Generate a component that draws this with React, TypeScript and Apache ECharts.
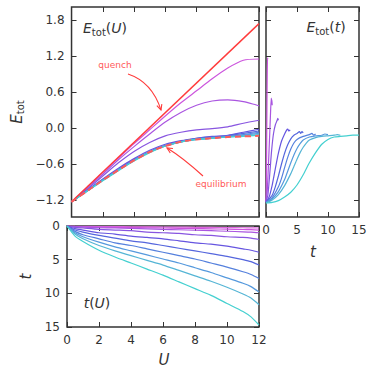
import React, { useEffect, useRef } from "react";
import * as echarts from "echarts";

const FONT = '"DejaVu Sans", "Liberation Sans", sans-serif';
const INK = "#333333";
const RED = "#ff3b3b";
const NOTE = "#ff5a5a";

// ---------- panel 1: E_tot(U) ----------
const U_VALUES = [0, 1, 2, 3, 4, 5, 6, 7, 8, 9, 10, 11, 12];
const RUN_COLORS = ["#cc55dd", "#aa55e0", "#8855e0", "#6655e0", "#5566dd", "#5580dd", "#5599dd", "#55b5d5", "#44d0d0"];
const E_OF_U_RUNS = [
  [-1.23, -0.99, -0.74, -0.5, -0.26, -0.03, 0.2, 0.42, 0.62, 0.82, 1.0, 1.13, 1.15],
  [-1.23, -1.0, -0.77, -0.53, -0.31, -0.1, 0.1, 0.26, 0.38, 0.45, 0.47, 0.44, 0.37],
  [-1.23, -1.02, -0.8, -0.58, -0.39, -0.24, -0.13, -0.07, -0.03, -0.01, 0.02, 0.08, 0.13],
  [-1.23, -1.04, -0.85, -0.67, -0.51, -0.37, -0.27, -0.21, -0.17, -0.14, -0.12, -0.07, -0.02],
  [-1.23, -1.04, -0.86, -0.69, -0.53, -0.39, -0.29, -0.22, -0.17, -0.15, -0.13, -0.09, -0.05],
  [-1.23, -1.05, -0.87, -0.7, -0.54, -0.4, -0.3, -0.23, -0.18, -0.16, -0.14, -0.11, -0.07],
  [-1.23, -1.05, -0.87, -0.7, -0.54, -0.4, -0.3, -0.23, -0.19, -0.17, -0.15, -0.12, -0.09],
  [-1.23, -1.05, -0.87, -0.7, -0.54, -0.4, -0.3, -0.23, -0.19, -0.17, -0.15, -0.13, -0.11],
  [-1.23, -1.05, -0.88, -0.71, -0.55, -0.41, -0.3, -0.23, -0.19, -0.17, -0.15, -0.14, -0.12],
];
const QUENCH_U = [0, 12];
const QUENCH_E = [-1.23, 1.74];
const EQUILIBRIUM_E = [-1.23, -1.05, -0.87, -0.7, -0.54, -0.4, -0.3, -0.23, -0.19, -0.17, -0.15, -0.14, -0.13];
const E_TICKS = [-1.2, -0.6, 0, 0.6, 1.2, 1.8];

// ---------- panel 2: E_tot(t) ----------
const E_OF_T_RUNS: number[][][] = [
  [[0, -1.23], [0.05, -1.0], [0.1, -0.4], [0.15, 0.3], [0.2, 0.9], [0.25, 1.17], [0.3, 1.15]],
  [[0, -1.23], [0.2, -1.05], [0.4, -0.6], [0.6, -0.1], [0.75, 0.3], [0.85, 0.5], [0.9, 0.42], [0.95, 0.47], [1.0, 0.38]],
  [[0, -1.23], [0.3, -1.12], [0.5, -0.9], [0.7, -0.64], [0.9, -0.38], [1.2, -0.1], [1.5, 0.05], [1.8, 0.13], [1.9, 0.16], [2.0, 0.13]],
  [[0, -1.24], [0.5, -1.15], [1.0, -0.95], [1.5, -0.68], [2.0, -0.42], [2.5, -0.22], [3.0, -0.1], [3.3, -0.04], [3.5, -0.02], [3.7, -0.05], [3.9, -0.03]],
  [[0, -1.24], [1, -1.12], [1.5, -0.98], [2, -0.8], [2.5, -0.6], [3, -0.42], [3.5, -0.28], [4, -0.18], [4.5, -0.12], [5, -0.09], [5.4, -0.06], [5.6, -0.09], [5.8, -0.06], [6, -0.08]],
  [[0, -1.24], [1, -1.16], [2, -0.98], [2.5, -0.84], [3, -0.66], [3.5, -0.49], [4, -0.35], [4.5, -0.25], [5, -0.19], [6, -0.14], [7, -0.11], [7.4, -0.09], [7.7, -0.12], [8, -0.1]],
  [[0, -1.24], [1, -1.18], [2, -1.06], [3, -0.86], [3.5, -0.72], [4, -0.58], [4.5, -0.45], [5, -0.34], [5.5, -0.26], [6, -0.2], [7, -0.15], [8, -0.13], [9, -0.12], [9.5, -0.1], [10, -0.11]],
  [[0, -1.25], [1, -1.2], [2, -1.11], [3, -0.96], [4, -0.76], [4.5, -0.64], [5, -0.52], [5.5, -0.41], [6, -0.32], [6.5, -0.25], [7, -0.2], [8, -0.16], [9, -0.14], [10, -0.13], [11, -0.12], [11.5, -0.11], [12, -0.12]],
  [[0, -1.25], [1, -1.24], [2, -1.21], [3, -1.15], [4, -1.07], [5, -0.95], [6, -0.78], [7, -0.58], [8, -0.41], [9, -0.27], [10, -0.19], [11, -0.15], [12, -0.14], [13, -0.13], [14, -0.12], [15, -0.12]],
];

// ---------- panel 3: t(U) ----------
const T_U_GRID = [0, 0.5, 1, 2, 3, 4, 5, 6, 7, 8, 9, 10, 11, 11.5, 12];
const T_COLORS = ["#dd66dd", "#cc55dd", "#aa55e0", "#8855e0", "#6655e0", "#5566dd", "#5580dd", "#5599dd", "#55b5d5", "#44d0d0"];
const T_OF_U_RUNS = [
  [0, 0.03, 0.05, 0.08, 0.09, 0.11, 0.13, 0.15, 0.17, 0.19, 0.21, 0.23, 0.26, 0.28, 0.3],
  [0, 0.06, 0.1, 0.15, 0.19, 0.22, 0.26, 0.3, 0.34, 0.38, 0.42, 0.47, 0.52, 0.55, 0.6],
  [0, 0.1, 0.16, 0.25, 0.3, 0.37, 0.43, 0.5, 0.56, 0.63, 0.7, 0.78, 0.86, 0.91, 1.0],
  [0, 0.2, 0.3, 0.5, 0.6, 0.7, 0.9, 1.0, 1.1, 1.3, 1.4, 1.6, 1.7, 1.8, 2.0],
  [0, 0.4, 0.6, 1.0, 1.2, 1.5, 1.7, 1.9, 2.2, 2.5, 2.7, 3.0, 3.4, 3.6, 3.9],
  [0, 0.6, 0.9, 1.4, 1.8, 2.2, 2.5, 2.9, 3.3, 3.7, 4.1, 4.5, 5.0, 5.3, 5.8],
  [0, 0.8, 1.3, 1.9, 2.5, 2.9, 3.4, 3.9, 4.4, 4.9, 5.5, 6.1, 6.8, 7.2, 7.8],
  [0, 1.0, 1.6, 2.4, 3.1, 3.7, 4.3, 4.9, 5.5, 6.2, 6.9, 7.7, 8.5, 9.0, 9.8],
  [0, 1.2, 1.9, 2.9, 3.7, 4.4, 5.1, 5.8, 6.6, 7.4, 8.2, 9.1, 10.1, 10.7, 11.7],
  [0, 1.5, 2.3, 3.6, 4.6, 5.5, 6.4, 7.3, 8.3, 9.3, 10.3, 11.5, 12.7, 13.5, 14.7],
];

type Part = { t: string; it?: boolean; s: number; dy?: number };

function measure(text: string, font: string): number {
  const c = document.createElement("canvas");
  const ctx = c.getContext("2d");
  if (!ctx) return text.length * 7;
  ctx.font = font;
  return ctx.measureText(text).width;
}

// Horizontal formula-like label built from text fragments.
function mathText(cx: number, cy: number, parts: Part[]) {
  const widths = parts.map((p) => measure(p.t, `${p.it ? "italic " : ""}${p.s}px "DejaVu Sans"`));
  const total = widths.reduce((a, b) => a + b, 0);
  let d = -total / 2;
  return parts.map((p, i) => {
    const el = {
      type: "text",
      x: cx + d,
      y: cy + (p.dy || 0),
      style: {
        text: p.t,
        fontSize: p.s,
        fontStyle: p.it ? "italic" : "normal",
        fontFamily: FONT,
        fill: INK,
        align: "left",
        verticalAlign: "middle",
      },
    };
    d += widths[i];
    return el;
  });
}

function arrow(x0: number, y0: number, cx: number, cy: number, x1: number, y1: number) {
  const dx = cx - x1, dy = cy - y1;
  const n = Math.hypot(dx, dy);
  const bx = dx / n, by = dy / n;
  const a = 0.45, L = 6;
  const c = Math.cos(a), s = Math.sin(a);
  const p1 = [x1 + L * (bx * c - by * s), y1 + L * (bx * s + by * c)];
  const p2 = [x1 + L * (bx * c + by * s), y1 + L * (-bx * s + by * c)];
  return [
    { type: "bezierCurve", shape: { x1: x0, y1: y0, cpx1: cx, cpy1: cy, x2: x1, y2: y1 }, style: { stroke: RED, lineWidth: 1.1, fill: "none" } },
    { type: "polyline", shape: { points: [p1, [x1, y1], p2] }, style: { stroke: RED, lineWidth: 1.1, fill: "none" } },
  ];
}

const tick = { show: true, inside: true, length: 5, lineStyle: { color: INK, width: 1 } };
const label = { color: INK, fontFamily: FONT, fontSize: 12, margin: 7 };
const noLine = { show: false, onZero: false };

function axis(gridIndex: number, position: string, min: number, max: number, interval: number, showLabel: boolean, extra: any = {}) {
  return {
    type: "value",
    gridIndex,
    position,
    min,
    max,
    interval,
    axisLine: noLine,
    axisTick: { ...tick },
    splitLine: { show: false },
    axisLabel: showLabel ? { ...label } : { show: false },
    ...extra,
  };
}

function eAxis(gridIndex: number, position: string, showLabel: boolean, extra: any = {}) {
  return {
    type: "value",
    gridIndex,
    position,
    min: -1.483,
    max: 2.017,
    axisLine: noLine,
    axisTick: { ...tick, customValues: E_TICKS },
    splitLine: { show: false },
    axisLabel: showLabel
      ? { ...label, customValues: E_TICKS, formatter: (v: number) => v.toFixed(1).replace("-", "\u2212") }
      : { show: false },
    ...extra,
  };
}

const nameRich = {
  e: { fontFamily: FONT, fontStyle: "italic", fontSize: 15, color: INK },
  s: { fontFamily: FONT, fontSize: 10, color: INK, padding: [8, 0, 0, 0] },
};

export default function App() {
  const ref = useRef<HTMLDivElement>(null);
  useEffect(() => {
    if (!ref.current) return;
    const chart = echarts.init(ref.current, null, { renderer: "svg" });
    const gridStyle = { show: true, borderColor: INK, borderWidth: 1.5, backgroundColor: "transparent" };
    const series: any[] = [];
    const base = { type: "line", showSymbol: false, symbol: "none", smooth: 0.25, silent: true };

    E_OF_U_RUNS.forEach((run, i) => {
      series.push({ ...base, xAxisIndex: 0, yAxisIndex: 0, data: U_VALUES.map((u, k) => [u, run[k]]), lineStyle: { color: RUN_COLORS[i], width: 1.2 } });
    });
    series.push({ ...base, smooth: false, xAxisIndex: 0, yAxisIndex: 0, data: QUENCH_U.map((u, k) => [u, QUENCH_E[k]]), lineStyle: { color: RED, width: 1.4 } });
    series.push({ ...base, xAxisIndex: 0, yAxisIndex: 0, data: U_VALUES.map((u, k) => [u, EQUILIBRIUM_E[k]]), lineStyle: { color: NOTE, width: 2, type: [6, 4] } });

    E_OF_T_RUNS.forEach((run, i) => {
      series.push({ ...base, smooth: 0.2, xAxisIndex: 2, yAxisIndex: 2, data: run, lineStyle: { color: RUN_COLORS[i], width: 1.2 } });
    });

    T_OF_U_RUNS.forEach((run, i) => {
      series.push({ ...base, xAxisIndex: 4, yAxisIndex: 4, data: T_U_GRID.map((u, k) => [u, run[k]]), lineStyle: { color: T_COLORS[i], width: 1.2 } });
    });

    chart.setOption({
      animation: false,
      backgroundColor: "#ffffff",
      grid: [
        { left: 67, top: 7, width: 192, height: 210, ...gridStyle },
        { left: 266, top: 7, width: 93, height: 210, ...gridStyle },
        { left: 67, top: 226, width: 192, height: 101, ...gridStyle },
      ],
      xAxis: [
        axis(0, "bottom", 0, 12, 2, false),
        axis(0, "top", 0, 12, 2, false),
        axis(1, "bottom", 0, 15, 5, true),
        axis(1, "top", 0, 15, 5, false),
        axis(2, "bottom", 0, 12, 2, true),
        axis(2, "top", 0, 12, 2, false),
      ],
      yAxis: [
        eAxis(0, "left", true, {
          name: "{e|E}{s|tot}",
          nameLocation: "middle",
          nameRotate: 90,
          nameGap: 46,
          nameTextStyle: { rich: nameRich },
        }),
        eAxis(0, "right", false),
        eAxis(1, "left", false),
        eAxis(1, "right", false),
        axis(2, "left", 0, 15, 5, true, {
          inverse: true,
          name: "{e|t}",
          nameLocation: "middle",
          nameRotate: 90,
          nameGap: 32,
          nameTextStyle: { rich: nameRich },
        }),
        axis(2, "right", 0, 15, 5, false, { inverse: true }),
      ],
      series,
      graphic: [
        ...mathText(105, 28, [{ t: "E", it: true, s: 14 }, { t: "tot", s: 10, dy: 4 }, { t: "(", s: 14 }, { t: "U", it: true, s: 14 }, { t: ")", s: 14 }]),
        ...mathText(326, 27, [{ t: "E", it: true, s: 14 }, { t: "tot", s: 10, dy: 4 }, { t: "(", s: 14 }, { t: "t", it: true, s: 14 }, { t: ")", s: 14 }]),
        ...mathText(97, 303, [{ t: "t", it: true, s: 14 }, { t: "(", s: 14 }, { t: "U", it: true, s: 14 }, { t: ")", s: 14 }]),
        ...mathText(164, 360, [{ t: "U", it: true, s: 15 }]),
        ...mathText(313, 252, [{ t: "t", it: true, s: 15 }]),
        { type: "text", x: 115, y: 65, style: { text: "quench", fill: NOTE, fontSize: 9, fontFamily: FONT, align: "center", verticalAlign: "middle" } },
        { type: "text", x: 221, y: 184, style: { text: "equilibrium", fill: NOTE, fontSize: 9, fontFamily: FONT, align: "center", verticalAlign: "middle" } },
        ...arrow(128, 74, 152, 82, 161, 110),
        ...arrow(203, 176, 182, 157, 167, 148),
      ],
    });
    return () => chart.dispose();
  }, []);
  return <div ref={ref} style={{ position: "fixed", left: 0, top: 0, width: 375, height: 375, background: "#fff" }} />;
}
